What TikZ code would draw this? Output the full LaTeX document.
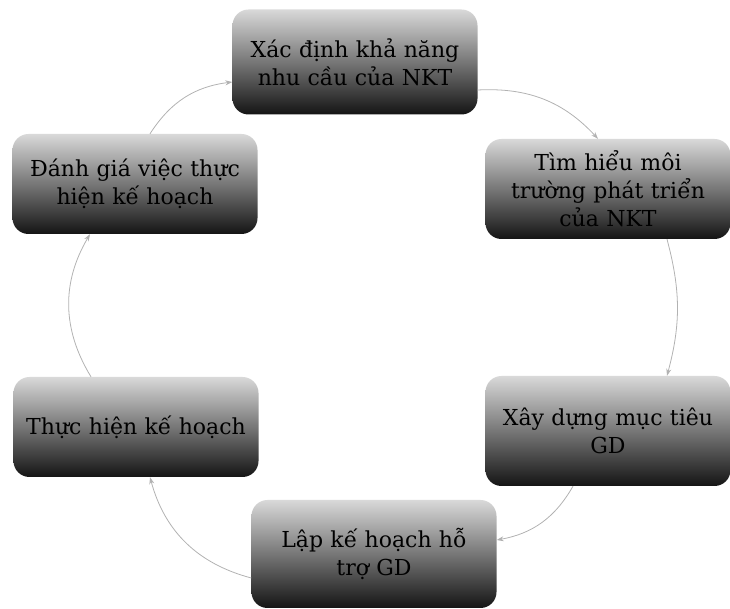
\documentclass[tikz,border=0pt]{standalone}
\usepackage{fontspec}
\setmainfont{DejaVu Serif}
\usetikzlibrary{arrows.meta}
\begin{document}
\begin{tikzpicture}[x=1pt,y=1pt,
  stage/.style={rounded corners=16pt, text width=239pt, inner sep=3pt,
    minimum height=100pt, top color=gray!30, middle color=gray!62,
    bottom color=black!92, align=center, text=black,
    font=\fontsize{22}{28}\selectfont},
  link/.style={-{Stealth[length=7pt,width=5pt]}, draw=gray!60, line width=0.8pt}]
\useasboundingbox (0,0) rectangle (730,609);
\node[stage, minimum height=105pt] (a) at (355,547) {Xác định khả năng\\nhu cầu của NKT};
\node[stage] (b) at (608,420) {Tìm hiểu môi\\trường phát triển\\của NKT};
\node[stage, minimum height=110pt] (c) at (608,178) {Xây dựng mục tiêu\\GD};
\node[stage, minimum height=108pt] (d) at (374,55) {Lập kế hoạch hỗ\\trợ GD};
\node[stage] (e) at (136,182) {Thực hiện kế hoạch};
\node[stage] (f) at (135,425) {Đánh giá việc thực\\hiện kế hoạch};
\draw[link] ([yshift=-28pt]a.east) to[bend left=25] ([xshift=-10pt]b.north);
\draw[link] ([xshift=59pt]b.south) to[bend left=15] ([xshift=59pt]c.north);
\draw[link] ([xshift=-35pt]c.south) to[bend left=25] ([yshift=14pt]d.east);
\draw[link] ([yshift=-24pt]d.west) to[bend left=30] ([xshift=14pt]e.south);
\draw[link] ([xshift=-45pt]e.north) to[bend left=31] ([xshift=-45pt]f.south);
\draw[link] ([xshift=15pt]f.north) to[bend left=25] ([yshift=-20pt]a.west);
\end{tikzpicture}
\end{document}
